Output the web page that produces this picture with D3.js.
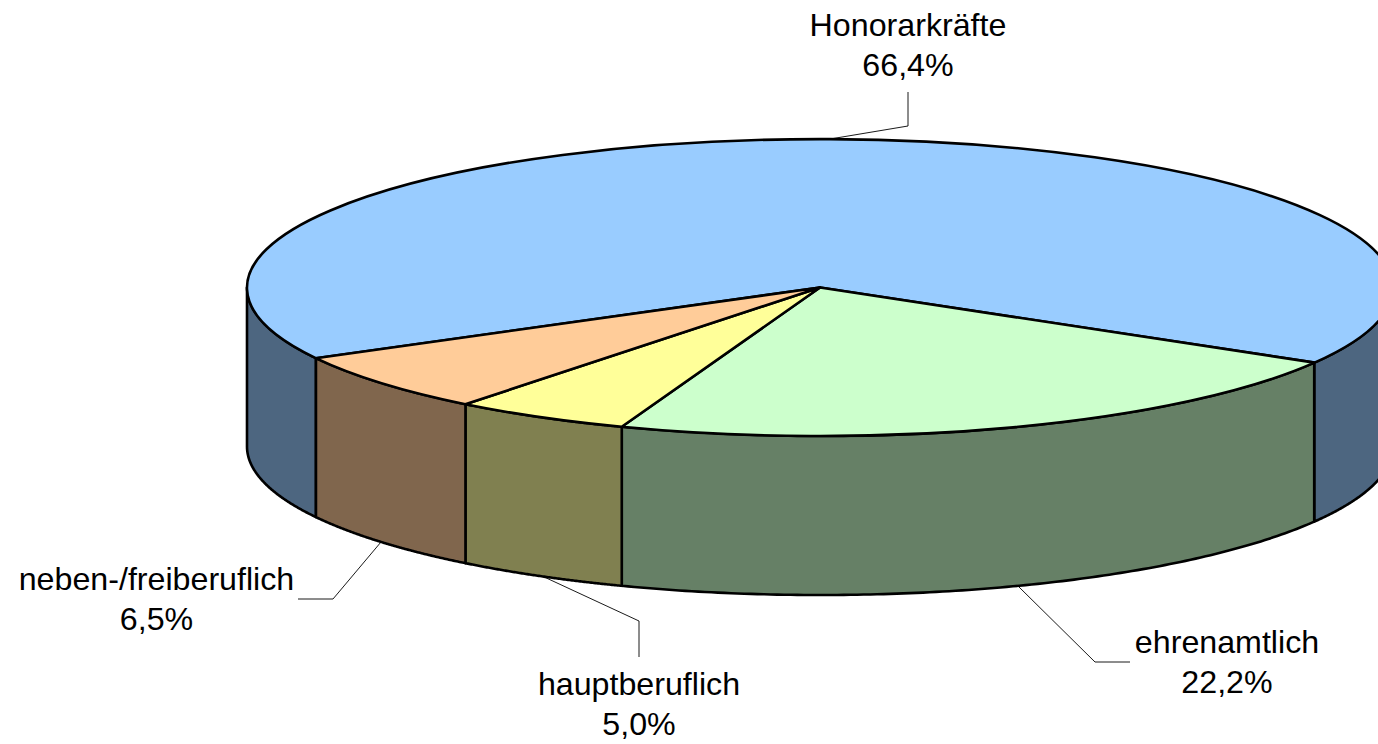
<!DOCTYPE html>
<html>
<head>
<meta charset="utf-8">
<script src="https://cdn.jsdelivr.net/npm/d3@7"></script>
<style>
html,body{margin:0;padding:0;background:#fff;overflow:hidden}
svg{display:block}
text{font-family:"Liberation Sans",Arial,sans-serif;fill:#000}
</style>
</head>
<body>
<svg id="chart" width="1378" height="744"></svg>
<script>
const categories = ["Honorarkräfte", "ehrenamtlich", "hauptberuflich", "neben-/freiberuflich"];
const values = [66.4, 22.2, 5.0, 6.5];
const valueLabels = ["66,4%", "22,2%", "5,0%", "6,5%"];
const topColors = ["#99CCFF", "#CCFFCC", "#FFFF99", "#FFCC99"];
const sideColors = ["#4D6680", "#668066", "#808050", "#80664D"];

// Layout of the callouts (separate from the data)
const labelAnchors = [[908, 36], [1227, 653], [639, 695], [156.5, 590]];
const leaderAngles = [361, 159.8, 208.9, 230]; // degrees clockwise from top, on the pie rim
const leaderBends = [[[908, 126], [908, 92]], [[1095, 662], [1130, 662]], [[639, 621], [639, 657]], [[333, 599], [298, 599]]];
const onFrontEdge = [false, true, true, true];

const W = 1378, H = 744;
const cx = 820, cy = 287.5, rx = 573, ry = 148.5, depth = 159;
const rad = Math.PI / 180, TAU = Math.PI * 2;

const svg = d3.select("#chart");
const pie = d3.pie().sort(null).startAngle(241.6 * rad).endAngle(241.6 * rad + TAU);
const arcs = pie(values);
const arc = d3.arc().innerRadius(0).outerRadius(1);

const px = a => cx + rx * Math.sin(a);
const py = a => cy - ry * Math.cos(a);

// Visible stretches of the outer wall: the angles between 90° and 270° (mod 360°)
function visibleRanges(a0, a1) {
  const out = [];
  for (let k = 0; k <= 1; k++) {
    const lo = Math.max(a0, Math.PI / 2 + k * TAU);
    const hi = Math.min(a1, Math.PI * 1.5 + k * TAU);
    if (hi > lo) out.push([lo, hi]);
  }
  return out;
}
const line = d3.line();
const walls = [];
arcs.forEach((d, i) => {
  visibleRanges(d.startAngle, d.endAngle).forEach(([lo, hi]) => {
    const n = 120;
    const t = d3.scaleLinear().domain([0, n]).range([lo, hi]);
    const angles = d3.range(n + 1).map(t);
    const topEdge = angles.map(a => [px(a), py(a)]);
    const bottomEdge = angles.slice().reverse().map(a => [px(a), py(a) + depth]);
    walls.push({i, path: line(topEdge.concat(bottomEdge)) + "Z"});
  });
});

svg.append("g").selectAll("path").data(walls).join("path")
  .attr("d", d => d.path)
  .attr("fill", d => sideColors[d.i])
  .attr("stroke", "#000").attr("stroke-width", 2.6).attr("stroke-linejoin", "round");

svg.append("g").attr("transform", `translate(${cx},${cy}) scale(${rx},${ry})`)
  .selectAll("path").data(arcs).join("path")
  .attr("d", arc)
  .attr("fill", (d, i) => topColors[i])
  .attr("stroke", "#000").attr("stroke-width", 2.6).attr("stroke-linejoin", "round")
  .attr("vector-effect", "non-scaling-stroke");

// Leaders
svg.append("g").selectAll("path").data(categories).join("path")
  .attr("d", (c, i) => {
    const a = leaderAngles[i] * rad;
    const start = [px(a), py(a) + (onFrontEdge[i] ? depth : 0)];
    return line([start, ...leaderBends[i]]);
  })
  .attr("fill", "none").attr("stroke", "#000").attr("stroke-width", 0.9);

// Labels
const labels = svg.append("g").selectAll("text").data(categories).join("text")
  .attr("text-anchor", "middle").attr("font-size", 32.2);
labels.append("tspan")
  .attr("x", (c, i) => labelAnchors[i][0]).attr("y", (c, i) => labelAnchors[i][1])
  .text(c => c);
labels.append("tspan")
  .attr("x", (c, i) => labelAnchors[i][0]).attr("y", (c, i) => labelAnchors[i][1] + 40)
  .text((c, i) => valueLabels[i]);
</script>
</body>
</html>
